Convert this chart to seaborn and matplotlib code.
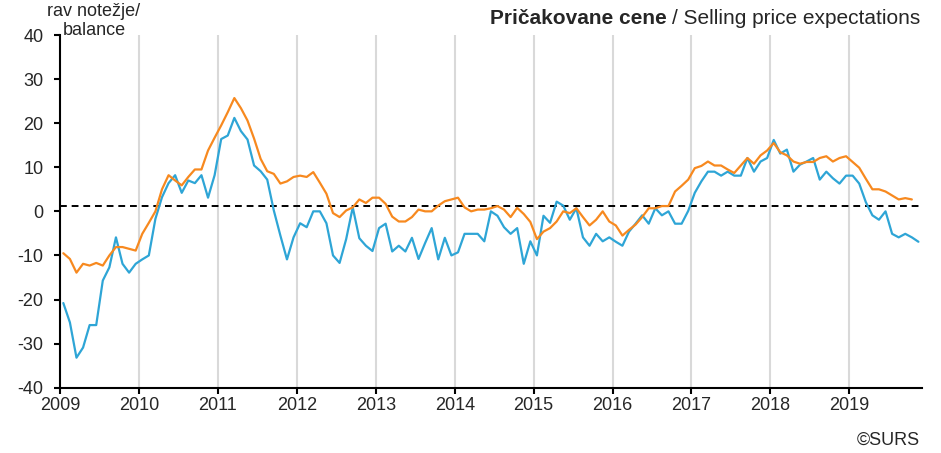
import numpy as np
import pandas as pd
import seaborn as sns
import matplotlib.pyplot as plt

# monthly balances, Jan 2009 - Nov 2019
balance = [
    -20.8, -25.2, -33.2, -30.9, -25.8, -25.8, -15.7, -12.7, -5.9, -11.9, -13.9, -11.9,
    -10.9, -10.0, -1.7, 3.2, 6.4, 8.2, 4.2, 7.0, 6.4, 8.2, 3.1, 8.2,
    16.4, 17.2, 21.2, 18.2, 16.3, 10.4, 9.1, 7.2, 0.2, -5.5, -10.9, -5.9,
    -2.7, -3.6, 0.0, 0.0, -2.7, -10.0, -11.7, -6.3, 0.9, -6.1, -7.8, -9.0,
    -3.8, -2.8, -9.1, -7.8, -9.1, -6.0, -10.8, -7.2, -3.8, -10.9, -6.0, -10.0,
    -9.3, -5.1, -5.1, -5.1, -6.8, 0.0, -1.0, -3.6, -5.1, -3.8, -11.9, -6.8,
    -10.0, -1.0, -2.6, 2.2, 1.3, -1.9, 0.7, -5.9, -7.8, -5.1, -6.8, -5.9,
    -6.9, -7.8, -4.6, -2.8, -0.9, -2.8, 0.7, -0.9, 0.0, -2.8, -2.8, 0.1,
    4.2, 6.8, 9.0, 9.0, 8.1, 9.0, 8.1, 8.1, 12.1, 9.0, 11.3, 12.1,
    16.2, 13.1, 14.0, 9.0, 10.6, 11.3, 12.1, 7.2, 9.0, 7.5, 6.3, 8.1,
    8.1, 6.3, 2.1, -0.9, -1.9, 0.0, -5.1, -5.9, -5.1, -5.9, -6.9,
]
trend = [
    -9.5, -10.8, -13.9, -11.9, -12.3, -11.7, -12.3, -10.0, -8.1, -8.1, -8.5, -8.9,
    -5.1, -2.6, 0.0, 5.0, 8.2, 7.0, 5.9, 7.8, 9.5, 9.5, 13.8, 16.7,
    19.5, 22.5, 25.7, 23.4, 20.6, 16.5, 11.9, 9.1, 8.5, 6.3, 6.8, 7.8,
    8.1, 7.8, 8.9, 6.5, 4.0, -0.4, -1.3, 0.2, 0.9, 2.7, 1.9, 3.1,
    3.1, 1.7, -1.2, -2.3, -2.3, -1.3, 0.4, 0.0, 0.0, 1.3, 2.3, 2.7,
    3.1, 0.9, 0.0, 0.4, 0.4, 0.7, 1.2, 0.4, -1.3, 0.8, -0.6, -2.4,
    -6.3, -4.6, -3.8, -2.3, 0.0, -0.4, 0.7, -1.3, -3.2, -1.9, 0.0, -2.3,
    -3.2, -5.5, -4.2, -3.0, -1.3, 0.7, 0.7, 1.2, 1.2, 4.5, 5.8, 7.2,
    9.8, 10.3, 11.3, 10.4, 10.4, 9.5, 8.7, 10.4, 12.1, 10.8, 12.7, 13.8,
    15.5, 13.4, 12.7, 11.3, 10.8, 11.2, 11.2, 12.1, 12.5, 11.3, 12.1, 12.5,
    11.2, 9.9, 7.4, 5.0, 5.0, 4.5, 3.6, 2.7, 3.0, 2.7, np.nan,
]
long_term_avg = 1.2
years = list(range(2009, 2020))

n = len(balance)
x = [2009 + (i + 0.5) / 12 for i in range(n)]
df = pd.DataFrame({'x': x, 'balance': balance, 'trend': trend})

sns.set_style('white')
plt.rcParams['font.family'] = ['Liberation Sans', 'DejaVu Sans']
plt.rcParams['axes.unicode_minus'] = False

fig = plt.figure(figsize=(9.41, 4.53), dpi=100)
ax = fig.add_axes([0.0638, 0.1442, 0.9157, 0.7785])

for yr in years[1:]:
    ax.axvline(yr, color='#d9d9d9', lw=1.5, zorder=0)

ax.axhline(long_term_avg, color='black', lw=1.4, ls=(0, (3.5, 2.5)), zorder=1)
sns.lineplot(data=df, x='x', y='balance', color='#2ea5d6', lw=1.6, ax=ax, zorder=2)
sns.lineplot(data=df, x='x', y='trend', color='#f7891f', lw=1.6, ax=ax, zorder=3)

ax.set_xlim(2009, 2009 + n / 12)
ax.set_ylim(-40, 40)
ax.set_xticks(years)
ax.set_xticklabels([str(y) for y in years])
ax.set_yticks(range(-40, 41, 10))
ax.set_xlabel('')
ax.set_ylabel('')
for s in ['top', 'right']:
    ax.spines[s].set_visible(False)
for s in ['left', 'bottom']:
    ax.spines[s].set_color('black')
    ax.spines[s].set_linewidth(1.5)
ax.tick_params(axis='both', direction='out', length=4, width=1.5, color='black',
               labelsize=13, left=True, bottom=True)
ax.tick_params(axis='y', pad=8)
ax.tick_params(axis='x', pad=3)

fig.text(94 / 941, 1 - 3 / 453, 'rav notežje/\nbalance', ha='center', va='top',
         multialignment='center', fontsize=13, linespacing=1.15)

# title: bold Slovenian part followed by normal English part
t_en = fig.text(920 / 941, 1 - 18 / 453, '/ Selling price expectations', ha='right',
                va='center', fontsize=15)
fig.canvas.draw()
x0 = t_en.get_window_extent().x0
fig.text((x0 - 5) / 941, 1 - 18 / 453, 'Pričakovane cene', ha='right', va='center',
         fontsize=15, fontweight='bold')
fig.text(920 / 941, 1 - 440 / 453, '©SURS', ha='right', va='center', fontsize=13)

fig.savefig('out.png', dpi=100)
